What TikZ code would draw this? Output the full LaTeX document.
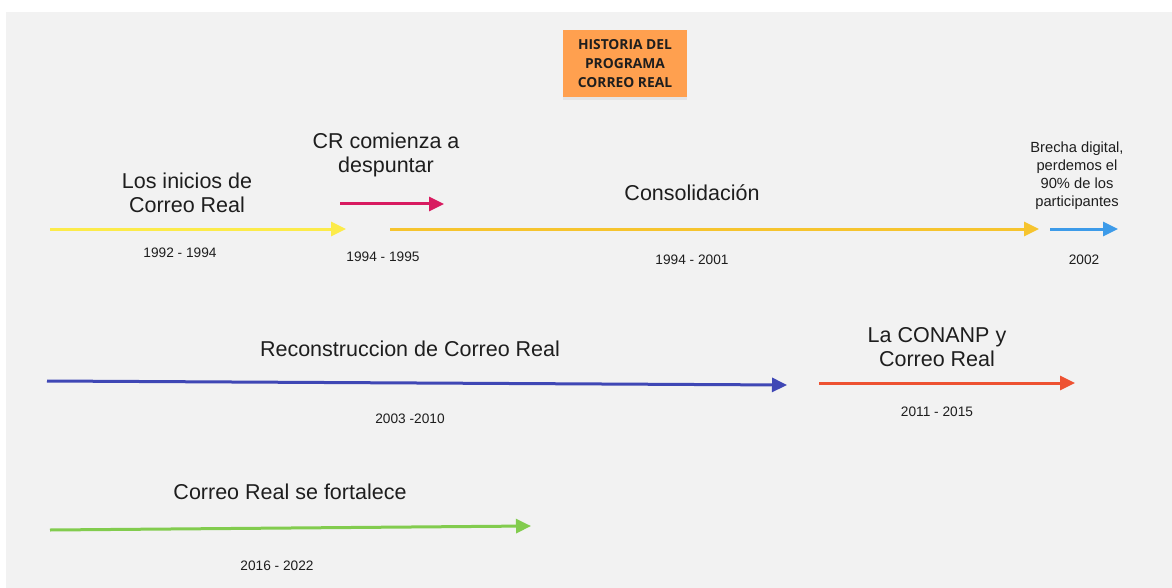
\documentclass[tikz,border=0pt]{standalone}
\usepackage{fontspec}
\setmainfont{Liberation Sans}
\newfontfamily\titlefont{Open Sans}
\usetikzlibrary{arrows.meta,shadows}
\definecolor{bggray}{HTML}{F2F2F2}
\definecolor{txt}{HTML}{1E1E1E}
\definecolor{cyellow}{HTML}{FCEB4A}
\definecolor{cpink}{HTML}{D81B60}
\definecolor{cgold}{HTML}{F6C42E}
\definecolor{clblue}{HTML}{3D9BE9}
\definecolor{cdblue}{HTML}{3F47B5}
\definecolor{cred}{HTML}{EE5232}
\definecolor{cgreen}{HTML}{82CC4E}
\definecolor{corange}{HTML}{FFA04F}
\begin{document}
\begin{tikzpicture}[x=1pt,y=-1pt,
  lbl/.style={text=txt,align=center,font=\fontsize{21.5}{24}\selectfont,inner sep=0pt},
  datelbl/.style={text=txt,align=center,font=\fontsize{13.7}{16}\selectfont,inner sep=0pt},
  smalllbl/.style={text=txt,align=center,font=\fontsize{14.7}{18}\selectfont,inner sep=0pt},
  tl/.style={line width=3pt,-{Triangle[length=15pt,width=14pt]}}]
\useasboundingbox (0,0) rectangle (1172,588);
\fill[white] (0,0) rectangle (1172,588);
\fill[bggray] (6,12) rectangle (1172,588);
% title
\node[fill=corange,minimum width=124pt,minimum height=67pt,inner sep=0pt,
  drop shadow={opacity=0.12,shadow xshift=0pt,shadow yshift=-3pt},
  align=center,text=txt,font=\titlefont\bfseries\fontsize{13.8}{19}\selectfont] (title) at (625,63.5)
  {HISTORIA DEL\\PROGRAMA\\CORREO REAL};
% row 1
\coordinate (a1s) at (50,229); \coordinate (a1e) at (346,229);
\coordinate (a2s) at (340,204); \coordinate (a2e) at (444,204);
\coordinate (a3s) at (390,229); \coordinate (a3e) at (1039,229);
\coordinate (a4s) at (1050,229); \coordinate (a4e) at (1118,229);
\draw[tl,cyellow] (a1s) -- (a1e);
\draw[tl,cpink] (a2s) -- (a2e);
\draw[tl,cgold] (a3s) -- (a3e);
\draw[tl,clblue] (a4s) -- (a4e);
\node[lbl] (l1) at (187,193) {Los inicios de\\Correo Real};
\node[datelbl] (d1) at (180,253) {1992 - 1994};
\node[lbl] (l2) at (386,155) {CR comienza a\\despuntar};
\node[datelbl] (d2) at (383,257) {1994 - 1995};
\node[lbl] (l3) at (692,193) {Consolidación};
\node[datelbl] (d3) at (692,260) {1994 - 2001};
\node[smalllbl] (l4) at (1077,176) {Brecha digital,\\perdemos el\\90\% de los\\participantes};
\node[datelbl] (d4) at (1084,260) {2002};
% row 2
\coordinate (b1s) at (47,381); \coordinate (b1e) at (787,385);
\coordinate (b2s) at (819,383); \coordinate (b2e) at (1075,383);
\draw[tl,cdblue] (b1s) -- (b1e);
\draw[tl,cred] (b2s) -- (b2e);
\node[lbl] (l5) at (410,349) {Reconstruccion de Correo Real};
\node[datelbl] (d5) at (410,419) {2003 -2010};
\node[lbl] (l6) at (937,347) {La CONANP y\\Correo Real};
\node[datelbl] (d6) at (937,412) {2011 - 2015};
% row 3
\coordinate (c1s) at (50,530); \coordinate (c1e) at (531,526);
\draw[tl,cgreen] (c1s) -- (c1e);
\node[lbl] (l7) at (290,492) {Correo Real se fortalece};
\node[datelbl] (d7) at (277,566) {2016 - 2022};
\end{tikzpicture}
\end{document}
